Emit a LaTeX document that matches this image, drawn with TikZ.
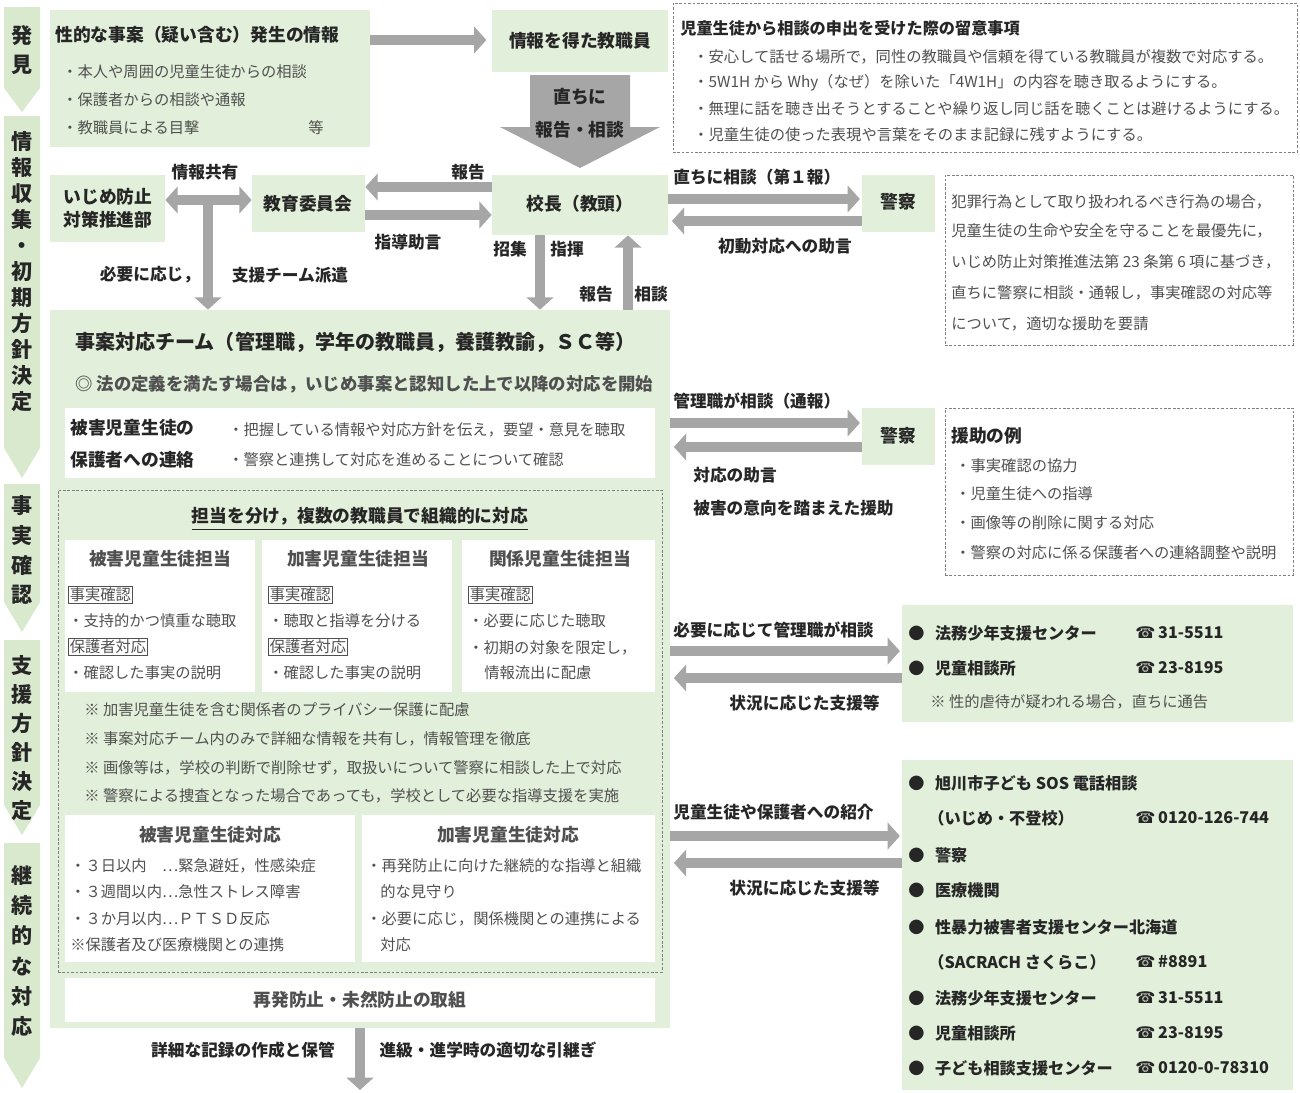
\documentclass[tikz,border=0pt]{standalone}
\usepackage{fontspec}
\setmainfont{Noto Sans CJK JP}
\newfontfamily\telfont{DejaVu Sans}
\usetikzlibrary{arrows.meta,fit}
\definecolor{boxgreen}{HTML}{E2EFDA}
\definecolor{stagegreen}{HTML}{D8E9CE}
\definecolor{arrowgray}{HTML}{A6A6A6}
\definecolor{dashgray}{HTML}{808080}
\definecolor{bodygray}{HTML}{505050}
\definecolor{inkblack}{HTML}{262626}
\newcommand{\tel}{{\telfont ☎}\,}

\begin{document}
\begin{tikzpicture}[x=0.02cm,y=-0.02cm]
\tikzstyle{greenbox}=[fill=boxgreen,inner sep=0pt]
\tikzstyle{whitebox}=[fill=white,inner sep=0pt]
\tikzstyle{notebox}=[draw=dashgray,line width=0.5pt,dash pattern=on 1.5pt off 1pt,inner sep=0pt]
\tikzstyle{headtext}=[inner sep=0pt,font=\bfseries\fontsize{10.1}{13}\selectfont,text=inkblack]
\tikzstyle{arrowtext}=[inner sep=0pt,font=\bfseries\fontsize{9.5}{12}\selectfont,text=inkblack]
\tikzstyle{bodytext}=[inner sep=0pt,anchor=west,font=\fontsize{8.7}{10}\selectfont,text=bodygray]
\tikzstyle{listtext}=[inner sep=0pt,anchor=west,font=\bfseries\fontsize{9.2}{11}\selectfont,text=inkblack]
\tikzstyle{tag}=[draw=bodygray,line width=0.4pt,inner sep=0.8pt,anchor=west,font=\fontsize{8.7}{10}\selectfont,text=bodygray]
\tikzstyle{stagetext}=[inner sep=0pt,align=center,text=inkblack]
\tikzstyle{garrow}=[draw=arrowgray,line width=5.5pt,-{Triangle[length=7pt,width=15pt]}]
\tikzstyle{gboth}=[draw=arrowgray,line width=5.5pt,{Triangle[length=7pt,width=15pt]}-{Triangle[length=7pt,width=15pt]}]

\fill[white] (0,0) rectangle (1300,1092);
\useasboundingbox (0,0) rectangle (1300,1092);

\fill[stagegreen] (4,7) -- (40,7) -- (40,88) -- (22,112) -- (4,88) -- cycle;
\fill[stagegreen] (4,116) -- (40,116) -- (40,448) -- (22,478) -- (4,448) -- cycle;
\fill[stagegreen] (4,484) -- (40,484) -- (40,602) -- (22,632) -- (4,602) -- cycle;
\fill[stagegreen] (4,640) -- (40,640) -- (40,805) -- (22,835) -- (4,805) -- cycle;
\fill[stagegreen] (4,843) -- (40,843) -- (40,1058) -- (22,1088) -- (4,1058) -- cycle;
\node[stagetext,font=\bfseries\fontsize{12}{17}\selectfont] (st1) at (22,50) {発\\見};
\node[stagetext,font=\bfseries\fontsize{12}{14.8}\selectfont] (st2) at (22,272) {情\\報\\収\\集\\・\\初\\期\\方\\針\\決\\定};
\node[stagetext,font=\bfseries\fontsize{12}{17}\selectfont] (st3) at (22,550) {事\\実\\確\\認};
\node[stagetext,font=\bfseries\fontsize{12}{16.5}\selectfont] (st4) at (22,738) {支\\援\\方\\針\\決\\定};
\node[stagetext,font=\bfseries\fontsize{12}{17.2}\selectfont] (st5) at (22,951) {継\\続\\的\\な\\対\\応};

\node[greenbox,fit={(50,10) (370,147)}] (hassei) {};
\node[headtext,anchor=west] (hasseit) at (55,35) {性的な事案（疑い含む）発生の情報};
\node[bodytext] (hassei1) at (62,72) {・本人や周囲の児童生徒からの相談};
\node[bodytext] (hassei2) at (62,100) {・保護者からの相談や通報};
\node[bodytext] (hassei3) at (62,128) {・教職員による目撃};
\node[bodytext] (hassei4) at (308,128) {等};

\node[greenbox,fit={(492,10) (668,72)}] (jouhou) {};
\node[headtext] (jouhout) at (580,41) {情報を得た教職員};
\fill[arrowgray] (530,75) -- (630,75) -- (630,127) -- (660,127) -- (580,168) -- (500,127) -- (530,127) -- cycle;
\node[headtext] (soku1) at (580,97) {直ちに};
\node[headtext] (soku2) at (580,130) {報告・相談};

\node[notebox,fit={(673,3) (1297,152)}] (note1) {};
\node[listtext] (note1t) at (680,28) {児童生徒から相談の申出を受けた際の留意事項};
\node[bodytext] (note1a) at (693,57) {・安心して話せる場所で，同性の教職員や信頼を得ている教職員が複数で対応する。};
\node[bodytext] (note1b) at (693,83) {・5W1H から Why（なぜ）を除いた「4W1H」の内容を聴き取るようにする。};
\node[bodytext] (note1c) at (693,109) {・無理に話を聴き出そうとすることや繰り返し同じ話を聴くことは避けるようにする。};
\node[bodytext] (note1d) at (693,135) {・児童生徒の使った表現や言葉をそのまま記録に残すようにする。};

\node[greenbox,fit={(50,175) (165,242)}] (ijime) {};
\node[headtext,align=left] (ijimet) at (108,208) {いじめ防止\\対策推進部};
\node[greenbox,fit={(252,175) (365,232)}] (kyoiku) {};
\node[headtext] (kyoikut) at (308,204) {教育委員会};
\node[greenbox,fit={(492,175) (668,235)}] (kocho) {};
\node[headtext] (kochot) at (580,204) {校長（教頭）};
\node[greenbox,fit={(862,175) (935,232)}] (police1) {};
\node[headtext] (police1t) at (898,202) {警察};
\node[notebox,fit={(945,175) (1293,345)}] (note2) {};
\node[bodytext] (note2a) at (951,202) {犯罪行為として取り扱われるべき行為の場合，};
\node[bodytext] (note2b) at (951,231) {児童生徒の生命や安全を守ることを最優先に，};
\node[bodytext] (note2c) at (951,262) {いじめ防止対策推進法第 23 条第 6 項に基づき，};
\node[bodytext] (note2d) at (951,293) {直ちに警察に相談・通報し，事実確認の対応等};
\node[bodytext] (note2e) at (951,324) {について，適切な援助を要請};

\node[greenbox,fit={(50,310) (670,1028)}] (team) {};
\node[headtext,anchor=west,font=\bfseries\fontsize{11.4}{14}\selectfont] (teamt) at (75,342) {事案対応チーム（管理職，学年の教職員，養護教諭，ＳＣ等）};
\node[headtext,anchor=west,font=\bfseries\fontsize{9.9}{12}\selectfont,text=bodygray] (teamsub) at (75,384) {◎ 法の定義を満たす場合は，いじめ事案と認知した上で以降の対応を開始};
\node[whitebox,fit={(65,408) (655,478)}] (hogo) {};
\node[headtext,anchor=west] (hogo1) at (70,428) {被害児童生徒の};
\node[headtext,anchor=west] (hogo2) at (70,460) {保護者への連絡};
\node[bodytext] (hogo3) at (228,430) {・把握している情報や対応方針を伝え，要望・意見を聴取};
\node[bodytext] (hogo4) at (228,460) {・警察と連携して対応を進めることについて確認};

\node[notebox,fit={(58,490) (662,972)}] (tanto) {};
\node[headtext] (tantot) at (360,516) {担当を分け，複数の教職員で組織的に対応};
\draw[inkblack,line width=0.8pt] ([yshift=-2.5pt]tantot.south west) -- ([yshift=-2.5pt]tantot.south east);

\node[whitebox,fit={(65,540) (255,692)}] (higai) {};
\node[headtext,text=bodygray] (higait) at (160,559) {被害児童生徒担当};
\node[tag] (higaia) at (68,595) {事実確認};
\node[bodytext] (higaib) at (68,621) {・支持的かつ慎重な聴取};
\node[tag] (higaic) at (68,647) {保護者対応};
\node[bodytext] (higaid) at (68,673) {・確認した事実の説明};
\node[whitebox,fit={(262,540) (452,692)}] (kagai) {};
\node[headtext,text=bodygray] (kagait) at (358,559) {加害児童生徒担当};
\node[tag] (kagaia) at (268,595) {事実確認};
\node[bodytext] (kagaib) at (268,621) {・聴取と指導を分ける};
\node[tag] (kagaic) at (268,647) {保護者対応};
\node[bodytext] (kagaid) at (268,673) {・確認した事実の説明};
\node[whitebox,fit={(462,540) (655,692)}] (kankei) {};
\node[headtext,text=bodygray] (kankeit) at (560,559) {関係児童生徒担当};
\node[tag] (kankeia) at (468,595) {事実確認};
\node[bodytext] (kankeib) at (468,621) {・必要に応じた聴取};
\node[bodytext] (kankeic) at (468,648) {・初期の対象を限定し，};
\node[bodytext] (kankeid) at (484,673) {情報流出に配慮};

\node[bodytext] (chui1) at (84,710) {※ 加害児童生徒を含む関係者のプライバシー保護に配慮};
\node[bodytext] (chui2) at (84,739) {※ 事案対応チーム内のみで詳細な情報を共有し，情報管理を徹底};
\node[bodytext] (chui3) at (84,768) {※ 画像等は，学校の判断で削除せず，取扱いについて警察に相談した上で対応};
\node[bodytext] (chui4) at (84,796) {※ 警察による捜査となった場合であっても，学校として必要な指導支援を実施};

\node[whitebox,fit={(65,815) (355,962)}] (higaitaio) {};
\node[headtext,text=bodygray] (higaitaiot) at (210,835) {被害児童生徒対応};
\node[bodytext] (higaitaio1) at (70,866) {・３日以内　…緊急避妊，性感染症};
\node[bodytext] (higaitaio2) at (70,892) {・３週間以内…急性ストレス障害};
\node[bodytext] (higaitaio3) at (70,919) {・３か月以内…ＰＴＳＤ反応};
\node[bodytext] (higaitaio4) at (70,945) {※保護者及び医療機関との連携};
\node[whitebox,fit={(362,815) (655,962)}] (kagaitaio) {};
\node[headtext,text=bodygray] (kagaitaiot) at (508,835) {加害児童生徒対応};
\node[bodytext] (kagaitaio1) at (366,866) {・再発防止に向けた継続的な指導と組織};
\node[bodytext] (kagaitaio2) at (380,892) {的な見守り};
\node[bodytext] (kagaitaio3) at (366,919) {・必要に応じ，関係機関との連携による};
\node[bodytext] (kagaitaio4) at (380,945) {対応};

\node[whitebox,fit={(65,978) (655,1022)}] (saihatsu) {};
\node[headtext,text=bodygray] (saihatsut) at (360,1000) {再発防止・未然防止の取組};

\node[greenbox,fit={(862,408) (935,465)}] (police2) {};
\node[headtext] (police2t) at (898,436) {警察};
\node[notebox,fit={(945,408) (1293,575)}] (note3) {};
\node[headtext,anchor=west] (note3t) at (951,436) {援助の例};
\node[bodytext] (note3a) at (955,466) {・事実確認の協力};
\node[bodytext] (note3b) at (955,494) {・児童生徒への指導};
\node[bodytext] (note3c) at (955,523) {・画像等の削除に関する対応};
\node[bodytext] (note3d) at (955,553) {・警察の対応に係る保護者への連絡調整や説明};

\node[greenbox,fit={(902,605) (1293,722)}] (center1) {};
\node[listtext] (center1a) at (908,633) {●\hspace{6pt}法務少年支援センター};
\node[listtext] (center1b) at (1135,633) {\tel 31-5511};
\node[listtext] (center1c) at (908,668) {●\hspace{6pt}児童相談所};
\node[listtext] (center1d) at (1135,668) {\tel 23-8195};
\node[bodytext] (center1e) at (930,702) {※ 性的虐待が疑われる場合，直ちに通告};

\node[greenbox,fit={(902,760) (1293,1090)}] (center2) {};
\node[listtext] (center2a) at (908,783) {●\hspace{6pt}旭川市子ども SOS 電話相談};
\node[listtext] (center2b) at (928,818) {（いじめ・不登校）};
\node[listtext] (center2c) at (1135,818) {\tel 0120-126-744};
\node[listtext] (center2d) at (908,855) {●\hspace{6pt}警察};
\node[listtext] (center2e) at (908,890) {●\hspace{6pt}医療機関};
\node[listtext] (center2f) at (908,927) {●\hspace{6pt}性暴力被害者支援センター北海道};
\node[listtext] (center2g) at (928,962) {（SACRACH さくらこ）};
\node[listtext] (center2h) at (1135,962) {\tel \#8891};
\node[listtext] (center2i) at (908,998) {●\hspace{6pt}法務少年支援センター};
\node[listtext] (center2j) at (1135,998) {\tel 31-5511};
\node[listtext] (center2k) at (908,1033) {●\hspace{6pt}児童相談所};
\node[listtext] (center2l) at (1135,1033) {\tel 23-8195};
\node[listtext] (center2m) at (908,1068) {●\hspace{6pt}子ども相談支援センター};
\node[listtext] (center2n) at (1135,1068) {\tel 0120-0-78310};

\coordinate (share) at (208,200);
\coordinate (goal) at (360,1090);

\draw[garrow] (hassei.east |- 0,40) -- ([xshift=-3pt]jouhou.west |- 0,40);
\draw[gboth] (ijime.east |- 0,200) -- (kyoiku.west |- 0,200);
\draw[garrow] (share) -- (team.north -| share);
\draw[garrow] (kocho.west |- 0,187) -- (kyoiku.east |- 0,187);
\draw[garrow] (kyoiku.east |- 0,215) -- (kocho.west |- 0,215);
\draw[garrow] (kocho.south -| 540,0) -- (team.north -| 540,0);
\draw[garrow] (team.north -| 628,0) -- (kocho.south -| 628,0);
\draw[garrow] (kocho.east |- 0,199) -- ([xshift=-1pt]police1.west |- 0,199);
\draw[garrow] (police1.west |- 0,221) -- ([xshift=2pt]kocho.east |- 0,221);
\draw[garrow] (team.east |- 0,423) -- ([xshift=-1pt]police2.west |- 0,423);
\draw[garrow] (police2.west |- 0,447) -- ([xshift=2pt]team.east |- 0,447);
\draw[garrow] (team.east |- 0,651) -- ([xshift=-1pt]center1.west |- 0,651);
\draw[garrow] (center1.west |- 0,678) -- ([xshift=2pt]team.east |- 0,678);
\draw[garrow] (team.east |- 0,836) -- ([xshift=-1pt]center2.west |- 0,836);
\draw[garrow] (center2.west |- 0,863) -- ([xshift=2pt]team.east |- 0,863);
\draw[garrow] (team.south -| goal) -- (goal);

\node[arrowtext] (a1) at (205,172) {情報共有};
\node[arrowtext] (a2) at (150,275) {必要に応じ，};
\node[arrowtext] (a3) at (290,275) {支援チーム派遣};
\node[arrowtext] (a4) at (468,172) {報告};
\node[arrowtext] (a5) at (408,242) {指導助言};
\node[arrowtext] (a6) at (510,249) {招集};
\node[arrowtext] (a7) at (567,249) {指揮};
\node[arrowtext] (a8) at (596,294) {報告};
\node[arrowtext] (a9) at (651,294) {相談};
\node[arrowtext,anchor=west] (a10) at (673,177) {直ちに相談（第１報）};
\node[arrowtext] (a11) at (785,246) {初動対応への助言};
\node[arrowtext,anchor=west] (a12) at (673,401) {管理職が相談（通報）};
\node[arrowtext,anchor=west] (a13) at (693,475) {対応の助言};
\node[arrowtext,anchor=west] (a14) at (693,508) {被害の意向を踏まえた援助};
\node[arrowtext,anchor=west] (a15) at (673,630) {必要に応じて管理職が相談};
\node[arrowtext,anchor=east] (a16) at (880,703) {状況に応じた支援等};
\node[arrowtext,anchor=west] (a17) at (673,812) {児童生徒や保護者への紹介};
\node[arrowtext,anchor=east] (a18) at (880,888) {状況に応じた支援等};
\node[arrowtext] (a19) at (243,1050) {詳細な記録の作成と保管};
\node[arrowtext] (a20) at (488,1050) {進級・進学時の適切な引継ぎ};
\end{tikzpicture}
\end{document}
